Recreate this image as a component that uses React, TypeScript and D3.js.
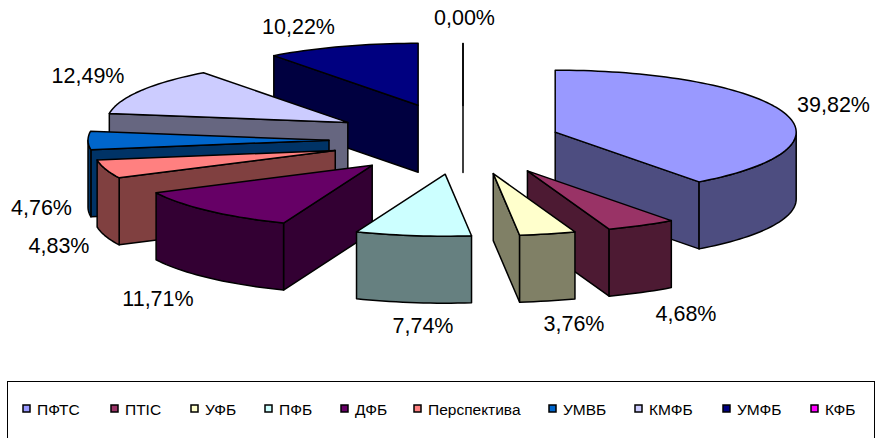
import React from "react";
import * as d3 from "d3";

const categories = ["ПФТС", "ПТІС", "УФБ", "ПФБ", "ДФБ", "Перспектива", "УМВБ", "КМФБ", "УМФБ", "КФБ"];
const shares = [39.82, 4.68, 3.76, 7.74, 11.71, 4.83, 4.76, 12.49, 10.22, 0.0];
const explosions = [0.403, 0.565, 0.556, 0.556, 0.556, 0.556, 0.556, 0.556, 0.59, 0.556];
const topColors = ["#9999FF", "#993366", "#FFFFCC", "#CCFFFF", "#660066", "#FF8080", "#0066CC", "#CCCCFF", "#000080", "#FF00FF"];
const sideColors = ["#4D4D80", "#4D1A33", "#808066", "#668080", "#330033", "#804040", "#003366", "#666680", "#000040", "#800080"];
const labelCentres: [number, number][] = [
  [833.5, 105], [686, 314], [574, 324], [423, 326], [158, 299], [59, 246], [41.5, 208], [88, 76], [298.5, 27], [464.5, 18],
];
const legendXs = [22, 110, 190, 264, 340, 413, 548, 634, 722, 810];

const W = 875, H = 438;
const x = d3.scaleLinear().domain([-1, 1]).range([463 - 241, 463 + 241]);
const y = d3.scaleLinear().domain([-1, 1]).range([140 + 62, 140 - 62]); // v: far = +1
const depth = 67;

const pieGen = d3.pie<number>().sort(null).startAngle(0).endAngle(2 * Math.PI).value((d) => d);
const arcs = pieGen(shares);
const line = d3.line<[number, number]>();

function samples(a0: number, a1: number): number[] {
  const n = Math.max(1, Math.ceil((a1 - a0) / 0.03));
  return d3.range(n + 1).map((i) => a0 + ((a1 - a0) * i) / n);
}

type Face = { d: string; fill: string };

function sliceFaces(i: number): Face[] {
  const { startAngle: a0, endAngle: a1 } = arcs[i];
  const mid = (a0 + a1) / 2;
  const e = explosions[i];
  const ox = e * Math.sin(mid), oy = e * Math.cos(mid);
  const P = (r: number, a: number, drop = 0): [number, number] => [
    x(ox + r * Math.sin(a)),
    y(oy + r * Math.cos(a)) + drop,
  ];
  const faces: Face[] = [];
  const quad = (a: number) =>
    (line([P(0, a), P(1, a), P(1, a, depth), P(0, 0, depth)]) as string) + "Z";
  if (Math.sin(a0) < 0 || a1 === a0) faces.push({ d: quad(a0), fill: sideColors[i] });
  if (Math.sin(a1) > 0) faces.push({ d: quad(a1), fill: sideColors[i] });
  const r0 = Math.max(a0, Math.PI / 2), r1 = Math.min(a1, (3 * Math.PI) / 2);
  if (r1 > r0) {
    const s = samples(r0, r1);
    const pts = [...s.map((a) => P(1, a)), ...[...s].reverse().map((a) => P(1, a, depth))];
    faces.push({ d: (line(pts) as string) + "Z", fill: sideColors[i] });
  }
  const top = [P(0, 0), ...samples(a0, a1).map((a) => P(1, a))];
  faces.push({ d: (line(top) as string) + "Z", fill: topColors[i] });
  return faces;
}

const drawOrder = d3
  .range(shares.length)
  .sort((a, b) => Math.cos((arcs[b].startAngle + arcs[b].endAngle) / 2) - Math.cos((arcs[a].startAngle + arcs[a].endAngle) / 2));

const fmt = (v: number) => v.toFixed(2).replace(".", ",") + "%";
const font = "'Liberation Sans', Arial, sans-serif";

export default function App() {
  return (
    <svg width={W} height={H} viewBox={`0 0 ${W} ${H}`} style={{ position: "absolute", left: 0, top: 0, background: "#fff" }} fontFamily={font}>
      {drawOrder.map((i) => (
        <g key={i} stroke="#000" strokeWidth={1.5} strokeLinejoin="round">
          {sliceFaces(i).map((f, j) => (
            <path key={j} d={f.d} fill={f.fill} />
          ))}
        </g>
      ))}
      {shares.map((v, i) => (
        <text key={i} x={labelCentres[i][0]} y={labelCentres[i][1]} textAnchor="middle" dominantBaseline="central" fontSize={21.5} fill="#000">
          {fmt(v)}
        </text>
      ))}
      <rect x={7.5} y={381.5} width={867} height={57} fill="#fff" stroke="#000" strokeWidth={1} />
      {categories.map((c, i) => (
        <g key={c}>
          <rect x={legendXs[i] + 1} y={405} width={7} height={7} fill={topColors[i]} stroke="#000" strokeWidth={1.5} />
          <text x={legendXs[i] + 15} y={409} dominantBaseline="central" fontSize={15.5} fill="#000">
            {c}
          </text>
        </g>
      ))}
    </svg>
  );
}
